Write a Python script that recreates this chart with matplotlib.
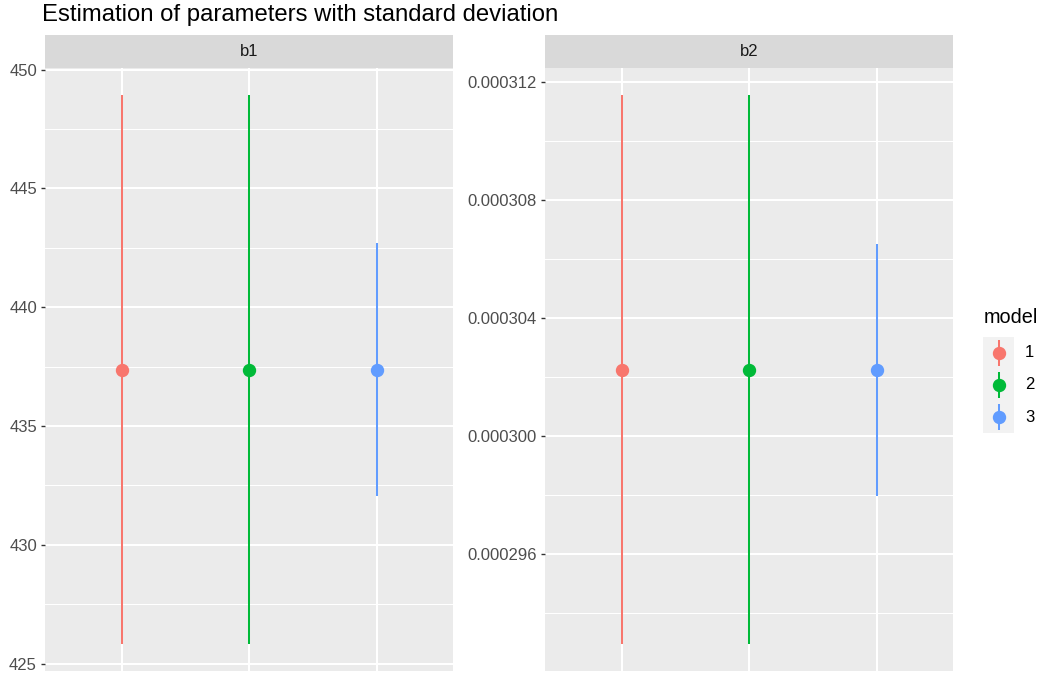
import numpy as np
import matplotlib
matplotlib.use("Agg")
import matplotlib.pyplot as plt
from matplotlib.ticker import FixedLocator, FuncFormatter

plt.rcParams["font.family"] = ["Liberation Sans", "DejaVu Sans"]

# data
models = ["1", "2", "3"]
colors = ["#F8766D", "#00BA38", "#619CFF"]
params = ["b1", "b2"]
b1_est = [437.375, 437.375, 437.37]
b1_sd = [11.535, 11.535, 5.31]
b2_est = [0.00030227, 0.00030227, 0.00030226]
b2_sd = [9.29e-6, 9.29e-6, 4.27e-6]
b1_ticks = [425, 430, 435, 440, 445, 450]
b2_ticks = [0.000296, 0.000300, 0.000304, 0.000308, 0.000312]

W, H = 1043, 675
fig = plt.figure(figsize=(W / 100, H / 100), dpi=100)

panel_bg = "#EBEBEB"
strip_bg = "#D9D9D9"
small = 12.0


def px_rect(x0, y0, x1, y1):
    return [x0 / W, 1 - y1 / H, (x1 - x0) / W, (y1 - y0) / H]


def draw_panel(left, right, name, est, sd, ticks, fmt):
    ax = fig.add_axes(px_rect(left, 68, right, 671))
    ax.set_facecolor(panel_bg)
    for s in ax.spines.values():
        s.set_visible(False)

    est = np.array(est)
    sd = np.array(sd)
    lo, hi = est - sd, est + sd
    rng = hi.max() - lo.min()
    ax.set_ylim(lo.min() - 0.05 * rng, hi.max() + 0.05 * rng)
    ax.set_xlim(0.4, 3.6)

    # grid
    ax.yaxis.set_major_locator(FixedLocator(ticks))
    step = ticks[1] - ticks[0]
    minor = [t + step / 2 for t in [ticks[0] - step] + ticks]
    ax.yaxis.set_minor_locator(FixedLocator(minor))
    ax.set_xticks([1, 2, 3])
    ax.grid(which="major", color="white", lw=1.45)
    ax.grid(which="minor", axis="y", color="white", lw=0.72)
    ax.set_axisbelow(True)

    ax.tick_params(axis="x", length=0, labelbottom=False)
    ax.tick_params(axis="y", which="major", length=3.2, width=1.0, color="#333333",
                   labelsize=small, labelcolor="#4D4D4D", pad=2.6)
    ax.tick_params(axis="y", which="minor", length=0)
    ax.yaxis.set_major_formatter(FuncFormatter(fmt))

    for i, (m, c) in enumerate(zip(models, colors)):
        x = i + 1
        ax.vlines(x, lo[i], hi[i], color=c, lw=1.45, zorder=3)
        ax.plot(x, est[i], "o", color=c, ms=8.6, mec=c, zorder=4)

    strip = fig.add_axes(px_rect(left, 35, right, 68))
    strip.set_facecolor(strip_bg)
    strip.set_xticks([])
    strip.set_yticks([])
    for s in strip.spines.values():
        s.set_visible(False)
    strip.text(0.5, 0.5, name, ha="center", va="center", fontsize=small,
               color="#1A1A1A", transform=strip.transAxes)
    return ax


draw_panel(45, 453, params[0], b1_est, b1_sd, b1_ticks, lambda v, p: f"{v:g}")
draw_panel(545, 953, params[1], b2_est, b2_sd, b2_ticks, lambda v, p: f"{v:.6f}")

fig.text(42 / W, 1 - 21 / H, "Estimation of parameters with standard deviation",
         fontsize=17.2, ha="left", va="baseline", color="black")

# legend
lg = fig.add_axes(px_rect(983, 337, 1014, 433))
lg.set_facecolor("#F2F2F2")
lg.set_xlim(0, 1)
lg.set_ylim(3.5, 0.5)
lg.set_xticks([])
lg.set_yticks([])
for s in lg.spines.values():
    s.set_visible(False)
for i, (m, c) in enumerate(zip(models, colors)):
    y = i + 1
    lg.vlines(0.5, y - 0.4, y + 0.4, color=c, lw=1.45)
    lg.plot(0.5, y, "o", color=c, ms=8.6, mec=c)
    lg.text(1.35, y, m, ha="left", va="center", fontsize=small, color="black",
            clip_on=False)
fig.text(984 / W, 1 - 318 / H, "model", fontsize=14.3, ha="left", va="center")

fig.savefig("out.png", dpi=100)
